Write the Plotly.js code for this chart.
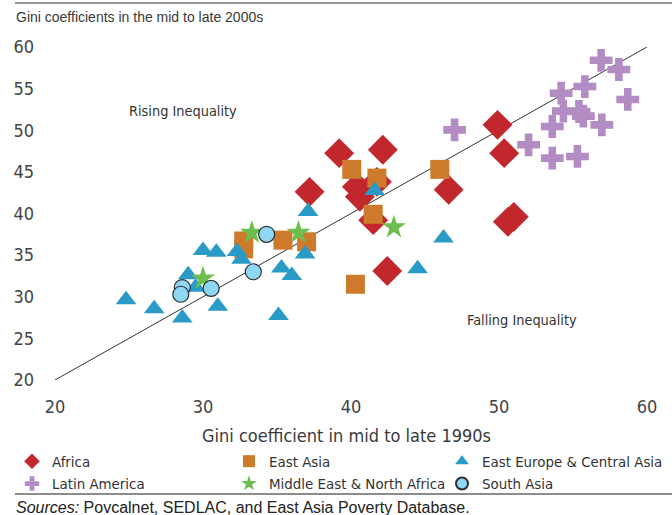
<!DOCTYPE html>
<html>
<head>
<meta charset="utf-8">
<script src="https://cdn.plot.ly/plotly-3.0.1.min.js"></script>
<style>
  html, body { margin: 0; padding: 0; background: #fff; }
  #chart { width: 672px; height: 515px; }
</style>
</head>
<body>
<div id="chart"></div>
<script>
// ---- Data (Gini 1990s = x, Gini 2000s = y) ----
const africaX = [49.9, 50.35, 39.2, 42.15, 37.2, 40.4, 41.75, 40.6, 46.6, 41.5, 42.45, 50.6, 51.0];
const africaY = [50.65, 47.25, 47.25, 47.65, 42.6, 43.2, 43.8, 42.0, 42.85, 39.2, 33.1, 39.0, 39.6];

const latinX = [56.9, 58.1, 55.8, 54.2, 58.7, 54.35, 55.4, 55.7, 53.6, 56.95, 47.0, 52.0, 53.6, 55.3];
const latinY = [58.4, 57.3, 55.25, 54.45, 53.7, 52.3, 52.25, 51.7, 50.45, 50.65, 50.05, 48.25, 46.65, 46.85];

const eastAsiaX = [40.05, 41.75, 46.0, 41.5, 35.4, 37.0, 40.3, 32.75, 32.75];
const eastAsiaY = [45.3, 44.25, 45.3, 39.9, 36.8, 36.6, 31.5, 36.7, 35.75];

const eecaX = [41.6, 37.1, 36.9, 46.25, 44.5, 36.0, 35.3, 24.8, 26.7, 28.6, 31.0, 29.0, 29.5, 30.0, 30.9, 32.3, 32.6, 35.1];
const eecaY = [42.75, 40.25, 35.15, 37.05, 33.35, 32.55, 33.45, 29.65, 28.55, 27.45, 28.85, 32.65, 31.15, 35.55, 35.35, 35.45, 34.5, 27.75];

const menaX = [33.3, 36.45, 42.9, 30.0];
const menaY = [37.7, 37.7, 38.35, 32.2];

const southAsiaX = [34.3, 33.4, 30.55, 28.6, 28.5];
const southAsiaY = [37.5, 33.0, 31.0, 31.1, 30.3];

const diagonal = [20, 60];
const xTicks = [20, 30, 40, 50, 60];
const yTicks = [20, 25, 30, 35, 40, 45, 50, 55, 60];

// ---- font detection (pick a condensed face if one is installed) ----
function hasFont(name) {
  const ctx = document.createElement('canvas').getContext('2d');
  const s = 'abcdefghijklmnopqrstuvwxyzWM0123456789';
  ctx.font = '40px monospace';
  const w0 = ctx.measureText(s).width;
  ctx.font = '40px "' + name + '", monospace';
  return ctx.measureText(s).width !== w0;
}
const condensedCandidates = ['Liberation Sans Narrow', 'DejaVu Sans Condensed', 'Arial Narrow'];
let narrowName = null;
for (const c of condensedCandidates) { if (hasFont(c)) { narrowName = c; break; } }
const narrow = narrowName ? '"' + narrowName + '", sans-serif' : '"Liberation Sans", Arial, sans-serif';
const nScale = narrowName === 'Liberation Sans Narrow' ? 1.0 : (narrowName ? 0.9 : 0.86);
const regular = '"Liberation Sans", Arial, Helvetica, sans-serif';
const ns = v => Math.round(v * nScale * 10) / 10;

const traces = [
  { x: diagonal, y: diagonal, mode: 'lines', line: { color: '#333', width: 1 },
    showlegend: false, hoverinfo: 'skip' },
  { name: 'Africa', legend: 'legend', x: africaX, y: africaY, mode: 'markers',
    marker: { symbol: 'diamond', size: 23, color: '#C1272D' } },
  { name: 'Latin America', legend: 'legend', x: latinX, y: latinY, mode: 'markers',
    marker: { symbol: 'cross', size: 19, color: '#B48CC4' } },
  { name: 'East Asia', legend: 'legend2', x: eastAsiaX, y: eastAsiaY, mode: 'markers',
    marker: { symbol: 'square', size: 19, color: '#CD7A2C' } },
  { name: 'East Europe & Central Asia', legend: 'legend3', x: eecaX, y: eecaY, mode: 'markers',
    marker: { symbol: 'triangle-up', size: 18, color: '#2A9AC6' } },
  { name: 'Middle East & North Africa', legend: 'legend2', x: menaX, y: menaY, mode: 'markers',
    marker: { symbol: 'star', size: 18, color: '#6DBE4E' } },
  { name: 'South Asia', legend: 'legend3', x: southAsiaX, y: southAsiaY, mode: 'markers',
    marker: { symbol: 'circle', size: 16, color: '#8ED8F6', line: { color: '#2d2d2d', width: 1.2 } } }
];

const W = 672, H = 515;
const mL = 55, mR = 25, mT = 47, mB = 135;
const pw = W - mL - mR, ph = H - mT - mB;
const px = v => (v - mL) / pw;          // pixel -> paper x
const py = v => (H - mB - v) / ph;      // pixel -> paper y

function legendAt(xPix) {
  return {
    orientation: 'v', x: px(xPix), xanchor: 'left', y: py(445), yanchor: 'top',
    font: { family: narrow, size: ns(16.5), color: '#333' },
    itemsizing: 'constant', tracegroupgap: 0, bgcolor: 'rgba(0,0,0,0)', borderwidth: 0
  };
}

const layout = {
  width: W, height: H,
  margin: { l: mL, r: mR, t: mT, b: mB, pad: 0, autoexpand: false },
  paper_bgcolor: '#fff', plot_bgcolor: '#fff',
  showlegend: true,
  xaxis: {
    range: [20, 60], tickvals: xTicks, ticktext: xTicks.map(String),
    showgrid: false, zeroline: false, showline: false, ticks: '',
    tickfont: { family: narrow, size: ns(20), color: '#444' },
    ticklabelstandoff: 14, fixedrange: true
  },
  yaxis: {
    range: [20, 60], tickvals: yTicks, ticktext: yTicks.map(String),
    showgrid: false, zeroline: false, showline: false, ticks: '',
    tickfont: { family: narrow, size: ns(20), color: '#444' },
    ticklabelstandoff: 20, fixedrange: true
  },
  legend: legendAt(12),
  legend2: legendAt(229),
  legend3: legendAt(442),
  annotations: [
    { text: 'Gini coefficients in the mid to late 2000s', xref: 'paper', yref: 'paper',
      x: px(14), y: py(17), xanchor: 'left', yanchor: 'middle', showarrow: false,
      font: { family: regular, size: 14, color: '#3a3a3a' } },
    { text: 'Rising Inequality', xref: 'x', yref: 'y', x: 28.65, y: 52.3,
      showarrow: false, font: { family: narrow, size: ns(16), color: '#333' } },
    { text: 'Falling Inequality', xref: 'x', yref: 'y', x: 51.55, y: 27.2,
      showarrow: false, font: { family: narrow, size: ns(16), color: '#333' } },
    { text: 'Gini coefficient in mid to late 1990s', xref: 'paper', yref: 'paper',
      x: px(346), y: py(435), xanchor: 'center', yanchor: 'middle', showarrow: false,
      font: { family: narrow, size: ns(20), color: '#3a3a3a' } },
    { text: '<i>Sources:</i> Povcalnet, SEDLAC, and East Asia Poverty Database.',
      xref: 'paper', yref: 'paper', x: px(14), y: py(507), xanchor: 'left', yanchor: 'middle',
      showarrow: false, font: { family: regular, size: 16, color: '#222' } }
  ],
  shapes: [
    { type: 'line', xref: 'paper', yref: 'paper', x0: px(15), x1: px(672), y0: py(3), y1: py(3),
      line: { color: '#777', width: 1.5 } },
    { type: 'line', xref: 'paper', yref: 'paper', x0: px(15), x1: px(672), y0: py(494), y1: py(494),
      line: { color: '#666', width: 1.5 } }
  ]
};

Plotly.newPlot('chart', traces, layout, { displayModeBar: false, staticPlot: true });
</script>
</body>
</html>
